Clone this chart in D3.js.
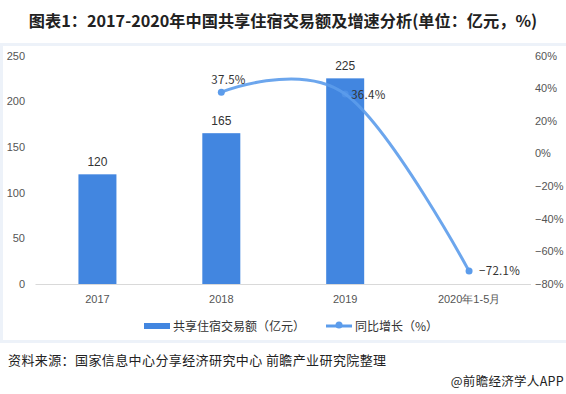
<!DOCTYPE html>
<html>
<head>
<meta charset="utf-8">
<script src="https://cdn.jsdelivr.net/npm/d3@7"></script>
<style>
  body { margin: 0; background: #fff; }
  svg { display: block; font-family: "Noto Sans CJK SC", "Noto Sans", sans-serif; }
</style>
</head>
<body>
<div id="chart"></div>
<script>
const categories = ['2017', '2018', '2019', '2020年1-5月']
const amount = [120, 165, 225, null]
const growth = [null, 37.5, 36.4, -72.1]
const growthLabels = [null, '37.5%', '36.4%', '\u221272.1%']
const leftTicks = [0, 50, 100, 150, 200, 250]
const rightTicks = [-80, -60, -40, -20, 0, 20, 40, 60]

const W = 566, H = 394
const plot = { left: 35.5, right: 531, top: 55.5, bottom: 284 }
const barColor = '#4286e0'
const lineColor = '#5c9ceb'

const svg = d3.select('#chart').append('svg')
  .attr('width', W)
  .attr('height', H)

// title
svg.append('text')
  .attr('x', 283).attr('y', 27)
  .attr('text-anchor', 'middle')
  .style('font-size', '16.2px')
  .style('font-weight', 700)
  .attr('fill', '#222')
  .text('图表1：2017-2020年中国共享住宿交易额及增速分析(单位：亿元，%)')

// light frame round the chart area
svg.append('rect')
  .attr('x', 1.5).attr('y', 44.5)
  .attr('width', 566).attr('height', 297)
  .attr('fill', 'none')
  .attr('stroke', '#edf2f9')
  .attr('stroke-width', 3)

const x = d3.scaleBand()
  .domain(categories)
  .range([plot.left, plot.right])
const y = d3.scaleLinear().domain([0, 250]).range([plot.bottom, plot.top])
const y2 = d3.scaleLinear().domain([-80, 60]).range([plot.bottom, plot.top])
const bw = 38

// left axis
const yAxis = svg.append('g')
  .attr('transform', 'translate(25,0)')
  .call(d3.axisLeft(y).tickValues(leftTicks).tickSize(0).tickPadding(0))
yAxis.select('.domain').remove()
yAxis.selectAll('text').attr('fill', '#555').style('font-size', '11px')
  .style('font-family', 'Liberation Sans, Arial, sans-serif')

// right axis
const y2Axis = svg.append('g')
  .attr('transform', 'translate(535,0)')
  .call(d3.axisRight(y2).tickValues(rightTicks).tickSize(0).tickPadding(0)
    .tickFormat(d => (d < 0 ? '\u2212' + (-d) : d) + '%'))
y2Axis.select('.domain').remove()
y2Axis.selectAll('text').attr('fill', '#555').style('font-size', '11px')
  .style('font-family', 'Liberation Sans, Arial, sans-serif')

// baseline
svg.append('line')
  .attr('x1', plot.left).attr('x2', plot.right)
  .attr('y1', plot.bottom + 0.5).attr('y2', plot.bottom + 0.5)
  .attr('stroke', '#d9d9d9')

// x labels
const xAxis = svg.append('g')
  .attr('transform', 'translate(0,' + plot.bottom + ')')
  .call(d3.axisBottom(x).tickSize(0).tickPadding(11))
xAxis.select('.domain').remove()
xAxis.selectAll('text').attr('fill', '#555').style('font-size', '11px')

// bars
const barData = categories.map((c, i) => ({ c, v: amount[i] })).filter(d => d.v != null)
svg.append('g').selectAll('rect')
  .data(barData)
  .join('rect')
    .attr('x', d => x(d.c) + x.bandwidth() / 2 - bw / 2)
    .attr('y', d => y(d.v))
    .attr('width', bw)
    .attr('height', d => y(0) - y(d.v))
    .attr('fill', barColor)

svg.append('g').selectAll('text')
  .data(barData)
  .join('text')
    .attr('x', d => x(d.c) + x.bandwidth() / 2)
    .attr('y', d => y(d.v) - 8)
    .attr('text-anchor', 'middle')
    .attr('fill', '#333')
    .style('font-size', '12px')
    .style('font-family', 'Liberation Sans, Arial, sans-serif')
    .text(d => d.v)

// growth line
const lineData = categories.map((c, i) => ({ c, v: growth[i], lab: growthLabels[i] })).filter(d => d.v != null)
const line = d3.line()
  .x(d => x(d.c) + x.bandwidth() / 2)
  .y(d => y2(d.v))
  .curve(d3.curveCardinal.tension(-0.1))

svg.append('path')
  .datum(lineData)
  .attr('d', line)
  .attr('fill', 'none')
  .attr('stroke', lineColor)
  .attr('stroke-opacity', 0.9)
  .attr('stroke-width', 3)

svg.append('g').selectAll('circle')
  .data(lineData)
  .join('circle')
    .attr('cx', d => x(d.c) + x.bandwidth() / 2)
    .attr('cy', d => y2(d.v))
    .attr('r', 3.5)
    .attr('fill', lineColor)
    .attr('fill-opacity', (d, i) => i == 1 ? 0.5 : 1)

const labOff = [[-10, -8, 'start'], [6, 5, 'start'], [10, 4, 'start']]
svg.append('g').selectAll('text')
  .data(lineData)
  .join('text')
    .attr('x', (d, i) => x(d.c) + x.bandwidth() / 2 + labOff[i][0])
    .attr('y', (d, i) => y2(d.v) + labOff[i][1])
    .attr('text-anchor', (d, i) => labOff[i][2])
    .attr('fill', '#333')
    .style('font-size', '11.5px')
    .style('letter-spacing', '0.3px')
    .text(d => d.lab)

// legend
const lg = svg.append('g').style('font-size', '12px').attr('fill', '#333')
lg.append('rect').attr('x', 144).attr('y', 323).attr('width', 26).attr('height', 6).attr('fill', barColor)
lg.append('text').attr('x', 173).attr('y', 330.5).text('共享住宿交易额（亿元）')
lg.append('line').attr('x1', 326).attr('x2', 352).attr('y1', 326).attr('y2', 326)
  .attr('stroke', lineColor).attr('stroke-width', 3)
lg.append('circle').attr('cx', 339).attr('cy', 325).attr('r', 3.5).attr('fill', lineColor)
lg.append('text').attr('x', 355).attr('y', 330.5).text('同比增长（%）')

// source
svg.append('text')
  .attr('x', 8).attr('y', 365)
  .attr('fill', '#222')
  .style('font-size', '13px')
  .style('letter-spacing', '0.4px')
  .text('资料来源：国家信息中心分享经济研究中心 前瞻产业研究院整理')
svg.append('text')
  .attr('x', 564).attr('y', 386)
  .attr('text-anchor', 'end')
  .attr('fill', '#222')
  .style('font-size', '12.5px')
  .style('letter-spacing', '0.3px')
  .text('@前瞻经济学人APP')
</script>
</body>
</html>
